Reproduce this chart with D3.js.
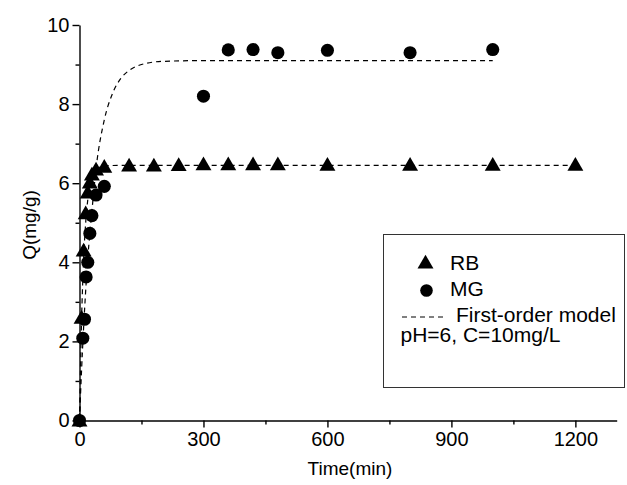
<!DOCTYPE html>
<html>
<head>
<meta charset="utf-8" />
<title>Q vs time</title>
<script src="https://cdnjs.cloudflare.com/ajax/libs/d3/7.8.5/d3.min.js"></script>
<style>
  body { margin: 0; background: #fff; }
  svg { font-family: "Liberation Sans", Arial, sans-serif; }
</style>
</head>
<body>
<svg id="chart" width="627" height="485"></svg>
<script>
// data
const rbTime = [0, 5, 10, 15, 20, 25, 30, 40, 60, 120, 180, 240, 300, 360, 420, 480, 600, 800, 1000, 1200]
const rbQ    = [0, 2.6, 4.3, 5.24, 5.77, 6.02, 6.22, 6.35, 6.42, 6.45, 6.45, 6.46, 6.48, 6.48, 6.48, 6.48, 6.47, 6.47, 6.47, 6.47]
const mgTime = [0, 8, 12, 16, 20, 25, 30, 40, 60, 300, 360, 420, 480, 600, 800, 1000]
const mgQ    = [0, 2.08, 2.56, 3.63, 4.0, 4.73, 5.18, 5.7, 5.92, 8.2, 9.37, 9.38, 9.3, 9.36, 9.3, 9.38]
// fitted first-order model curves
const fitRbTime = [0, 5, 10, 15, 20, 30, 40, 60, 100, 1200]
const fitRbQ    = [0, 2.54, 4.08, 5.01, 5.58, 6.13, 6.33, 6.44, 6.45, 6.45]
const fitMgTime = [0, 5, 10, 15, 20, 30, 40, 60, 80, 100, 120, 150, 200, 300, 1000]
const fitMgQ    = [0, 1.27, 2.36, 3.29, 4.09, 5.29, 6.36, 7.6, 8.27, 8.65, 8.85, 9.0, 9.08, 9.1, 9.1]
const xTicks = [0, 300, 600, 900, 1200]
const yTicks = [0, 2, 4, 6, 8, 10]
const legendLabels = ['RB', 'MG', 'First-order model', 'pH=6, C=10mg/L']

const svg = d3.select('#chart')
const x = d3.scaleLinear().domain([0, 1300]).range([79.5, 616.7])
const y = d3.scaleLinear().domain([0, 10]).range([420.5, 25])

// axes, ticks outward with minor ticks between
const xAxis = d3.axisBottom(x).tickValues(xTicks).tickFormat(d3.format('d'))
  .tickSize(7).tickSizeOuter(0).tickPadding(4)
svg.append('g').attr('class', 'ax').attr('transform', 'translate(0,420.5)').call(xAxis)
svg.append('g').attr('class', 'ax').attr('transform', 'translate(0,420.5)')
  .call(d3.axisBottom(x).tickValues([150, 450, 750, 1050]).tickSize(4).tickSizeOuter(0).tickFormat(''))
  .select('.domain').remove()

const yAxis = d3.axisLeft(y).tickValues(yTicks).tickSize(7).tickSizeOuter(0).tickPadding(3)
svg.append('g').attr('class', 'ax').attr('transform', 'translate(79.5,0)').call(yAxis)
svg.append('g').attr('class', 'ax').attr('transform', 'translate(79.5,0)')
  .call(d3.axisLeft(y).tickValues([1, 3, 5, 7, 9]).tickSize(4).tickSizeOuter(0).tickFormat(''))
  .select('.domain').remove()

svg.selectAll('.ax .tick text').style('font-size', '20px').attr('fill', '#000')
svg.selectAll('.ax .domain, .ax .tick line').attr('stroke', '#000').attr('stroke-width', 1.4)

svg.append('text').attr('x', 350).attr('y', 475).attr('text-anchor', 'middle')
  .style('font-size', '19px').text('Time(min)')
svg.append('text').attr('transform', 'translate(36,225) rotate(-90)').attr('text-anchor', 'middle')
  .style('font-size', '19px').text('Q(mg/g)')

// dashed model lines
const line = d3.line().x(d => x(d[0])).y(d => y(d[1])).curve(d3.curveMonotoneX)
const fits = [d3.zip(fitRbTime, fitRbQ), d3.zip(fitMgTime, fitMgQ)]
svg.selectAll('path.fit').data(fits).enter().append('path')
  .attr('class', 'fit')
  .attr('d', line)
  .attr('fill', 'none').attr('stroke', '#000').attr('stroke-width', 1.2)
  .attr('stroke-dasharray', '5,4')

const tri = d3.symbol().type(d3.symbolTriangle).size(110)
const circ = d3.symbol().type(d3.symbolCircle).size(135)

svg.selectAll('path.mg').data(d3.zip(mgTime, mgQ)).enter().append('path')
  .attr('class', 'mg')
  .attr('d', circ)
  .attr('transform', d => 'translate(' + x(d[0]) + ',' + y(d[1]) + ')')
  .attr('fill', '#000')

svg.selectAll('path.rb').data(d3.zip(rbTime, rbQ)).enter().append('path')
  .attr('class', 'rb')
  .attr('d', tri)
  .attr('transform', d => 'translate(' + x(d[0]) + ',' + (y(d[1]) + 1.5) + ')')
  .attr('fill', '#000')

// legend
const lg = svg.append('g')
lg.append('rect').attr('x', 383.5).attr('y', 234.5).attr('width', 241).attr('height', 153)
  .attr('fill', 'none').attr('stroke', '#333').attr('stroke-width', 1)
lg.append('path').attr('d', tri).attr('transform', 'translate(425.5,264)').attr('fill', '#000')
lg.append('path').attr('d', d3.symbol().type(d3.symbolCircle).size(125)).attr('transform', 'translate(426.5,290.5)').attr('fill', '#000')
lg.append('line').attr('x1', 402).attr('x2', 447).attr('y1', 317).attr('y2', 317)
  .attr('stroke', '#000').attr('stroke-width', 1).attr('stroke-dasharray', '5,4')
const lx = [450, 450, 456, 400.5]
const ly = [270, 296, 322, 342]
lg.selectAll('text').data(legendLabels).enter().append('text')
  .attr('x', (d, i) => lx[i]).attr('y', (d, i) => ly[i])
  .style('font-size', '21px').text(d => d)
</script>
</body>
</html>
